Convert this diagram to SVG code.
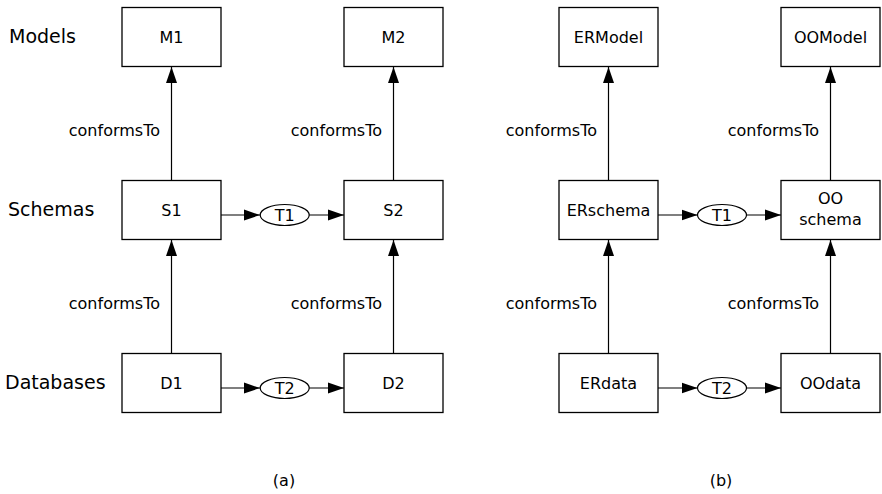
<svg xmlns="http://www.w3.org/2000/svg" width="882" height="494" viewBox="0 0 882 494">
<style>
text{font-family:"DejaVu Sans","Liberation Sans",sans-serif;fill:#000}
.box{fill:#fff;stroke:#000;stroke-width:1.3}
.lbl{font-size:16px;text-anchor:middle}
.row{font-size:19px}
.ct{font-size:16px;text-anchor:end}
.cap{font-size:16px;text-anchor:middle}
.edge{stroke:#000;stroke-width:1.2;fill:none;marker-end:url(#ah)}
.ell{fill:#fff;stroke:#000;stroke-width:1.2}
</style>
<defs>
<marker id="ah" markerUnits="userSpaceOnUse" markerWidth="16" markerHeight="12" refX="16" refY="6" orient="auto">
<path d="M0,0.5 L16,6 L0,11.5 Z" fill="#000"/>
</marker>
</defs>
<rect width="882" height="494" fill="#fff"/>
<text class="row" x="9" y="43">Models</text>
<text class="row" x="8" y="216">Schemas</text>
<text class="row" x="5" y="389">Databases</text>
<g id="connectors">
<line class="edge" x1="171.5" y1="180.5" x2="171.5" y2="67"/>
<line class="edge" x1="171.5" y1="353.5" x2="171.5" y2="240"/>
<line class="edge" x1="393.5" y1="180.5" x2="393.5" y2="67"/>
<line class="edge" x1="393.5" y1="353.5" x2="393.5" y2="240"/>
<line class="edge" x1="608.5" y1="180.5" x2="608.5" y2="67"/>
<line class="edge" x1="608.5" y1="353.5" x2="608.5" y2="240"/>
<line class="edge" x1="830.5" y1="180.5" x2="830.5" y2="67"/>
<line class="edge" x1="830.5" y1="353.5" x2="830.5" y2="240"/>
<line class="edge" x1="221" y1="215" x2="260" y2="215"/>
<line class="edge" x1="309" y1="215" x2="344" y2="215"/>
<line class="edge" x1="221" y1="388" x2="260" y2="388"/>
<line class="edge" x1="309" y1="388" x2="344" y2="388"/>
<line class="edge" x1="658" y1="215" x2="697.5" y2="215"/>
<line class="edge" x1="746.5" y1="215" x2="781" y2="215"/>
<line class="edge" x1="658" y1="388" x2="697.5" y2="388"/>
<line class="edge" x1="746.5" y1="388" x2="781" y2="388"/>
<text class="ct" x="160" y="136">conformsTo</text>
<text class="ct" x="382" y="136">conformsTo</text>
<text class="ct" x="160" y="309">conformsTo</text>
<text class="ct" x="382" y="309">conformsTo</text>
<text class="ct" x="597" y="136">conformsTo</text>
<text class="ct" x="819" y="136">conformsTo</text>
<text class="ct" x="597" y="309">conformsTo</text>
<text class="ct" x="819" y="309">conformsTo</text>
</g>
<g id="M1"><rect class="box" x="122" y="7.5" width="99" height="59"/><text class="lbl" x="171.5" y="43">M1</text></g>
<g id="M2"><rect class="box" x="344" y="7.5" width="99" height="59"/><text class="lbl" x="393.5" y="43">M2</text></g>
<g id="S1"><rect class="box" x="122" y="180.5" width="99" height="59"/><text class="lbl" x="171.5" y="216">S1</text></g>
<g id="S2"><rect class="box" x="344" y="180.5" width="99" height="59"/><text class="lbl" x="393.5" y="216">S2</text></g>
<g id="D1"><rect class="box" x="122" y="353.5" width="99" height="59"/><text class="lbl" x="171.5" y="389">D1</text></g>
<g id="D2"><rect class="box" x="344" y="353.5" width="99" height="59"/><text class="lbl" x="393.5" y="389">D2</text></g>
<g id="T1a"><ellipse class="ell" cx="284.7" cy="215" rx="24.5" ry="10.5"/><text class="lbl" x="284.7" y="220.5">T1</text></g>
<g id="T2a"><ellipse class="ell" cx="284.7" cy="388" rx="24.5" ry="10.5"/><text class="lbl" x="284.7" y="393.5">T2</text></g>
<g id="ERModel"><rect class="box" x="559" y="7.5" width="99" height="59"/><text class="lbl" x="608.5" y="43">ERModel</text></g>
<g id="OOModel"><rect class="box" x="781" y="7.5" width="99" height="59"/><text class="lbl" x="830.5" y="43">OOModel</text></g>
<g id="ERschema"><rect class="box" x="559" y="180.5" width="99" height="59"/><text class="lbl" x="608.5" y="216">ERschema</text></g>
<g id="OOschema"><rect class="box" x="781" y="180.5" width="99" height="59"/><text class="lbl" x="830.5" y="204">OO</text><text class="lbl" x="830.5" y="225">schema</text></g>
<g id="ERdata"><rect class="box" x="559" y="353.5" width="99" height="59"/><text class="lbl" x="608.5" y="389">ERdata</text></g>
<g id="OOdata"><rect class="box" x="781" y="353.5" width="99" height="59"/><text class="lbl" x="830.5" y="389">OOdata</text></g>
<g id="T1b"><ellipse class="ell" cx="722" cy="215" rx="24.5" ry="10.5"/><text class="lbl" x="722" y="220.5">T1</text></g>
<g id="T2b"><ellipse class="ell" cx="722" cy="388" rx="24.5" ry="10.5"/><text class="lbl" x="722" y="393.5">T2</text></g>
<text class="cap" x="284" y="486">(a)</text>
<text class="cap" x="721" y="486">(b)</text>
</svg>
